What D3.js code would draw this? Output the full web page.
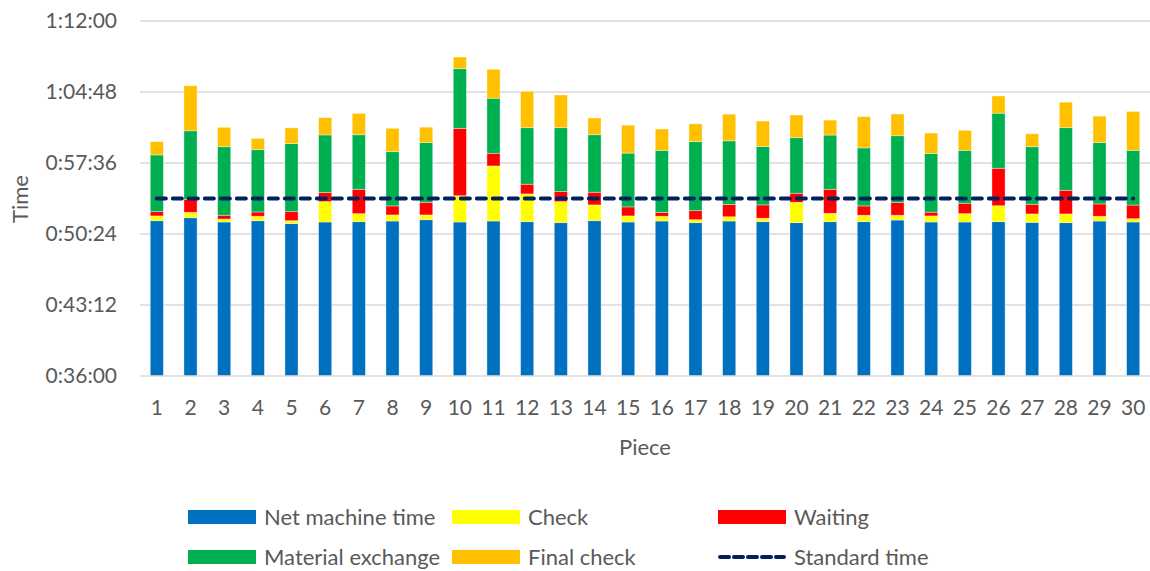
<!DOCTYPE html>
<html>
<head>
<meta charset="utf-8">
<script src="https://cdn.jsdelivr.net/npm/d3@7"></script>
<style>
  html, body { margin: 0; padding: 0; background: #fff; }
  svg { display: block; }
  text { font-family: Lato, "Open Sans", sans-serif; fill: #595959; }
</style>
</head>
<body>
<svg id="chart" width="1150" height="571"></svg>
<script>
// ---- data (durations in seconds) ----
const pieces = d3.range(1, 31).map(String);
const netMachine = [3105,3123,3097,3105,3087,3097,3099,3103,3111,3097,3103,3099,3093,3105,3097,3103,3093,3103,3099,3093,3099,3099,3109,3097,3097,3099,3095,3093,3103,3097];
const check      = [29,33,18,27,18,124,49,37,29,160,335,169,128,96,37,29,18,26,21,124,51,39,29,37,51,97,51,53,29,20];
const waiting    = [26,79,23,26,55,55,148,55,77,410,77,59,61,77,55,24,55,75,81,55,146,57,79,23,63,228,59,144,75,83];
const material   = [345,417,417,379,414,351,332,330,363,363,335,344,389,350,327,377,420,387,355,338,330,353,405,357,322,335,350,381,373,333];
const finalCheck = [81,274,118,69,96,105,130,142,94,71,176,221,199,102,170,130,108,162,155,138,91,190,132,124,122,105,79,155,161,237];
const standardTime = 3240;
const yTickValues = [2160, 2592, 3024, 3456, 3888, 4320];
const yTickLabels = ["0:36:00", "0:43:12", "0:50:24", "0:57:36", "1:04:48", "1:12:00"];
const seriesNames = ["Net machine time", "Check", "Waiting", "Material exchange", "Final check"];
const seriesColors = ["#0070C0", "#FFFF00", "#FF0000", "#00B050", "#FFC000"];
const lineName = "Standard time";
const lineColor = "#002060";

const svg = d3.select("#chart");
const plot = { left: 140, right: 1150, top: 21, bottom: 376 };

const x = d3.scaleBand().domain(pieces).range([plot.left, plot.right]).paddingInner(0.61).paddingOuter(0.305);
const y = d3.scaleLinear().domain([2160, 4320]).range([plot.bottom, plot.top]);

// gridlines
svg.append("g").selectAll("line").data(yTickValues.slice(1)).join("line")
  .attr("x1", plot.left).attr("x2", plot.right)
  .attr("y1", d => y(d)).attr("y2", d => y(d))
  .attr("stroke", "#d9d9d9").attr("stroke-width", 1.3);

// y labels
svg.append("g").selectAll("text").data(yTickValues).join("text")
  .attr("x", 117).attr("y", d => y(d)).attr("dy", "0.35em")
  .attr("text-anchor", "end").attr("font-size", 21)
  .text((d, i) => yTickLabels[i]);

// stacked bars
const table = pieces.map((p, i) => ({
  piece: p,
  "Net machine time": netMachine[i],
  "Check": check[i],
  "Waiting": waiting[i],
  "Material exchange": material[i],
  "Final check": finalCheck[i]
}));
const stack = d3.stack().keys(seriesNames)(table);

const barsG = svg.append("g");
stack.forEach((layer, k) => {
  barsG.append("g").attr("fill", seriesColors[k]).selectAll("rect").data(layer).join("rect")
    .attr("x", d => x(d.data.piece))
    .attr("width", x.bandwidth())
    .attr("y", d => y(d[1]))
    .attr("height", d => Math.max(0, y(Math.max(d[0], 2160)) - y(d[1])))
    .attr("stroke", "rgba(255,255,255,0.45)").attr("stroke-width", 0.8);
});

// x axis line
svg.append("line").attr("x1", plot.left).attr("x2", plot.right)
  .attr("y1", plot.bottom).attr("y2", plot.bottom)
  .attr("stroke", "#d9d9d9").attr("stroke-width", 1.3);

// x labels
svg.append("g").selectAll("text").data(pieces).join("text")
  .attr("x", d => x(d) + x.bandwidth() / 2).attr("y", 408).attr("dy", "0.35em")
  .attr("text-anchor", "middle").attr("font-size", 21)
  .text(d => d);

// standard time line
const line = d3.line().x(d => x(d) + x.bandwidth() / 2).y(() => y(standardTime));
svg.append("path").datum(pieces).attr("d", line)
  .attr("fill", "none").attr("stroke", lineColor).attr("stroke-width", 4)
  .attr("stroke-dasharray", "9,7").attr("stroke-linecap", "round");

// axis titles
svg.append("text").attr("x", 645).attr("y", 447).attr("dy", "0.35em")
  .attr("text-anchor", "middle").attr("font-size", 22).text("Piece");
svg.append("text").attr("transform", "translate(20,199) rotate(-90)").attr("dy", "0.35em")
  .attr("text-anchor", "middle").attr("font-size", 22).text("Time");

// legend
const legendItems = [
  { name: seriesNames[0], color: seriesColors[0], col: 0, row: 0 },
  { name: seriesNames[1], color: seriesColors[1], col: 1, row: 0 },
  { name: seriesNames[2], color: seriesColors[2], col: 2, row: 0 },
  { name: seriesNames[3], color: seriesColors[3], col: 0, row: 1 },
  { name: seriesNames[4], color: seriesColors[4], col: 1, row: 1 },
  { name: lineName, color: lineColor, col: 2, row: 1, line: true }
];
const colX = [188, 452, 718];
const rowY = [517, 557];
const lg = svg.append("g").selectAll("g").data(legendItems).join("g")
  .attr("transform", d => `translate(${colX[d.col]},${rowY[d.row]})`);
lg.filter(d => !d.line).append("rect")
  .attr("x", 0).attr("y", -7).attr("width", 68).attr("height", 14)
  .attr("fill", d => d.color);
lg.filter(d => d.line).append("line")
  .attr("x1", 2).attr("x2", 66).attr("y1", 0).attr("y2", 0)
  .attr("stroke", d => d.color).attr("stroke-width", 4)
  .attr("stroke-dasharray", "9,5").attr("stroke-linecap", "round");
lg.append("text").attr("x", 76).attr("y", 0).attr("dy", "0.35em")
  .attr("font-size", 22).text(d => d.name);
</script>
</body>
</html>
